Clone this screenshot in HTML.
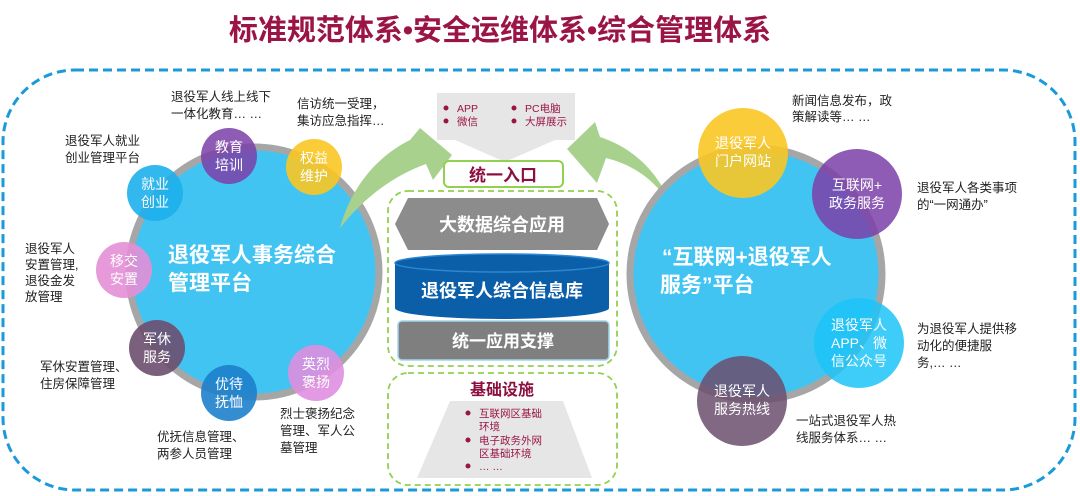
<!DOCTYPE html>
<html><head><meta charset="utf-8">
<style>
html,body{margin:0;padding:0;background:#fff;}
svg{display:block;}
text{font-family:"Liberation Sans","Noto Sans CJK SC",sans-serif;}
</style></head>
<body>
<svg width="1080" height="496" viewBox="0 0 1080 496" xmlns="http://www.w3.org/2000/svg">
<text x="500" y="40" text-anchor="middle" font-size="29" font-weight="bold" fill="#9b1446">标准规范体系•安全运维体系•综合管理体系</text>
<rect x="3" y="70" width="1072" height="420" rx="72" ry="72" fill="none" stroke="#1a9ad9" stroke-width="3" stroke-dasharray="9,5"/>

<circle cx="254" cy="272" r="125" fill="#42c4f2" stroke="#a6a6a6" stroke-width="7"/>
<path d="M340,228 C352,185 378,156 410,140 L420,128 L452,155 L433,180 L426,164 C392,176 362,200 340,228 Z" fill="#a9d18e"/>
<path d="M675,218 C664,186 638,166 606,158 L597,183 L567,149 L595,122 L600,137 C640,150 666,182 675,218 Z" fill="#a9d18e"/>
<text x="168" y="262" font-size="21" font-weight="bold" fill="#fff">退役军人事务综合</text>
<text x="168" y="290" font-size="21" font-weight="bold" fill="#fff">管理平台</text>
<g font-size="14" fill="#fff" text-anchor="middle">
<circle cx="229" cy="156" r="28" fill="#7b3fa8" opacity="0.85"/><text x="229" y="152">教育</text><text x="229" y="170">培训</text>
<circle cx="314" cy="167" r="28" fill="#f9c623" opacity="0.9"/><text x="314" y="163">权益</text><text x="314" y="181">维护</text>
<circle cx="155" cy="193" r="28" fill="#1cb0ec" opacity="0.9"/><text x="155" y="189">就业</text><text x="155" y="207">创业</text>
<circle cx="124" cy="270" r="28" fill="#e48fd6" opacity="0.9"/><text x="124" y="266">移交</text><text x="124" y="284">安置</text>
<circle cx="157" cy="348" r="28" fill="#6b4f6f" opacity="0.9"/><text x="157" y="344">军休</text><text x="157" y="362">服务</text>
<circle cx="229" cy="393" r="28" fill="#1e7fcc" opacity="0.9"/><text x="229" y="389">优待</text><text x="229" y="407">抚恤</text>
<circle cx="316" cy="373" r="28" fill="#de8fe0" opacity="0.9"/><text x="316" y="369">英烈</text><text x="316" y="387">褒扬</text>
</g>
<g font-size="12.5" fill="#222">
<text x="171" y="101">退役军人线上线下</text><text x="171" y="118">一体化教育… …</text>
<text x="297" y="108">信访统一受理，</text><text x="297" y="125">集访应急指挥…</text>
<text x="65" y="145">退役军人就业</text><text x="65" y="162">创业管理平台</text>
<text x="25" y="253">退役军人</text><text x="25" y="269">安置管理,</text><text x="25" y="285">退役金发</text><text x="25" y="301">放管理</text>
<text x="40" y="371">军休安置管理、</text><text x="40" y="388">住房保障管理</text>
<text x="157" y="441">优抚信息管理、</text><text x="157" y="458">两参人员管理</text>
<text x="280" y="418">烈士褒扬纪念</text><text x="280" y="435">管理、军人公</text><text x="280" y="452">墓管理</text>
</g>

<circle cx="756" cy="274" r="126" fill="#42c4f2" stroke="#a6a6a6" stroke-width="7"/>
<text x="662" y="264" font-size="21" font-weight="bold" fill="#fff">“互联网+退役军人</text>
<text x="660" y="292" font-size="21" font-weight="bold" fill="#fff">服务”平台</text>
<g font-size="14" fill="#fff" text-anchor="middle">
<circle cx="743" cy="153" r="45" fill="#f9c623" opacity="0.9"/><text x="743" y="148">退役军人</text><text x="743" y="166">门户网站</text>
<circle cx="857" cy="194" r="45" fill="#7b3fa8" opacity="0.85"/><text x="857" y="190">互联网+</text><text x="857" y="208">政务服务</text>
<circle cx="859" cy="343" r="45" fill="#1cc4f8" opacity="0.85"/><text x="859" y="330">退役军人</text><text x="859" y="348">APP、微</text><text x="859" y="366">信公众号</text>
<circle cx="742" cy="401" r="45" fill="#6b4f6f" opacity="0.85"/><text x="742" y="396">退役军人</text><text x="742" y="414">服务热线</text>
</g>
<g font-size="12.5" fill="#222">
<text x="792" y="105">新闻信息发布，政</text><text x="792" y="121">策解读等… …</text>
<text x="917" y="192">退役军人各类事项</text><text x="917" y="209">的“一网通办”</text>
<text x="917" y="333">为退役军人提供移</text><text x="917" y="350">动化的便捷服</text><text x="917" y="367">务,… …</text>
<text x="796" y="425">一站式退役军人热</text><text x="796" y="442">线服务体系… …</text>
</g>

<path d="M437,93 H575 V140 H555 L505,162 L455,140 H437 Z" fill="#e6e6e6"/>
<g font-size="10.5" fill="#9b1446">
<circle cx="446" cy="108" r="2.5"/><text x="457" y="112">APP</text>
<circle cx="446" cy="121" r="2.5"/><text x="457" y="125">微信</text>
<circle cx="514" cy="108" r="2.5"/><text x="525" y="112">PC电脑</text>
<circle cx="514" cy="121" r="2.5"/><text x="525" y="125">大屏展示</text>
</g>
<rect x="444" y="161" width="119" height="26" rx="5" fill="#fff" stroke="#92d050" stroke-width="2"/>
<text x="503" y="181" text-anchor="middle" font-size="17" font-weight="bold" fill="#8b1040">统一入口</text>

<rect x="388" y="191" width="229" height="175" rx="20" fill="none" stroke="#92d050" stroke-width="1.8" stroke-dasharray="6,4"/>
<polygon points="408,198 597,198 609,224 597,250 408,250 395,224" fill="#8c8c8c"/>
<text x="502" y="231" text-anchor="middle" font-size="18" font-weight="bold" fill="#fff">大数据综合应用</text>
<path d="M395,263 V308 A107,11 0 0 0 609,308 V263 Z" fill="#0b5ea8"/>
<ellipse cx="502" cy="263" rx="107" ry="9" fill="#0b5ea8" stroke="#2c86d0" stroke-width="1.5"/>
<text x="502" y="297" text-anchor="middle" font-size="18" font-weight="bold" fill="#fff">退役军人综合信息库</text>
<rect x="398" y="321" width="211" height="39" rx="4" fill="#7f7f7f" stroke="#9fd6ee" stroke-width="1.5"/>
<text x="503" y="347" text-anchor="middle" font-size="17" font-weight="bold" fill="#fff">统一应用支撑</text>

<rect x="388" y="373" width="229" height="112" rx="20" fill="none" stroke="#92d050" stroke-width="1.8" stroke-dasharray="6,4"/>
<text x="502" y="395" text-anchor="middle" font-size="16" font-weight="bold" fill="#8b1040">基础设施</text>
<polygon points="450,401 563,401 592,478 417,478" fill="#e6e6e6"/>
<g font-size="10.5" fill="#9b1446">
<circle cx="468" cy="413" r="2.5"/><text x="479" y="417">互联网区基础</text><text x="479" y="430">环境</text>
<circle cx="468" cy="440" r="2.5"/><text x="479" y="444">电子政务外网</text><text x="479" y="457">区基础环境</text>
<circle cx="468" cy="466" r="2.5"/><text x="479" y="470">… …</text>
</g>
</svg>
</body></html>
